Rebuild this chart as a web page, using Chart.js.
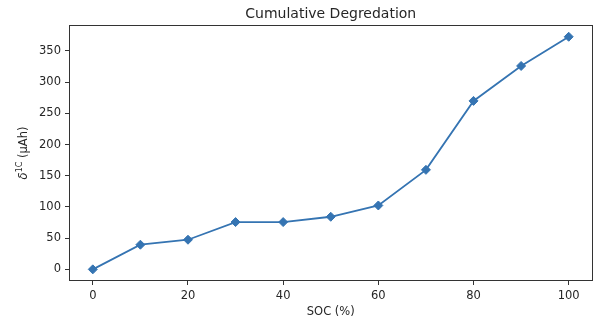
<!DOCTYPE html>
<html>
<head>
<meta charset="utf-8">
<script src="https://cdn.jsdelivr.net/npm/chart.js@4/dist/chart.umd.min.js"></script>
<style>
  html, body { margin: 0; padding: 0; background: #fff; }
  #wrap { width: 598px; height: 320px; position: relative; }
</style>
</head>
<body>
<div id="wrap"><canvas id="c" width="598" height="320"></canvas></div>
<script>
const socValues = [0, 10, 20, 30, 40, 50, 60, 70, 80, 90, 100];
const degradation = [0, 39.5, 47.5, 75.8, 75.8, 84.3, 102.4, 159.5, 270, 326, 372.8];
const xTickValues = [0, 20, 40, 60, 80, 100];
const yTickValues = [0, 50, 100, 150, 200, 250, 300, 350];
const chartTitle = 'Cumulative Degredation';
const xLabel = 'SOC (%)';
const yLabelParts = ['δ', '1C', ' (μAh)'];

const FONT = 'DejaVu Sans';
const TXT = '#262626';
const LINE = '#3574b2';

const frame = {
  id: 'frame',
  afterDraw(chart) {
    const {ctx, chartArea: a} = chart;
    ctx.save();
    ctx.strokeStyle = '#333';
    ctx.lineWidth = 1;
    ctx.strokeRect(Math.round(a.left) + 0.5, Math.round(a.top) + 0.5,
      Math.round(a.right - a.left) - 1, Math.round(a.bottom - a.top) - 1);
    // y-axis label with superscript
    const cy = (a.top + a.bottom) / 2;
    const fMain = '11.5px "' + FONT + '"';
    const fItal = 'italic 11.5px "' + FONT + '"';
    const fSup = '8px "' + FONT + '"';
    ctx.font = fItal; const w0 = ctx.measureText(yLabelParts[0]).width;
    ctx.font = fSup; const w1 = ctx.measureText(yLabelParts[1]).width;
    ctx.font = fMain; const w2 = ctx.measureText(yLabelParts[2]).width;
    const total = w0 + w1 + w2;
    ctx.translate(26.5, cy);
    ctx.rotate(-Math.PI / 2);
    ctx.fillStyle = TXT;
    ctx.textBaseline = 'alphabetic';
    ctx.textAlign = 'left';
    let x = -total / 2;
    ctx.font = fItal; ctx.fillText(yLabelParts[0], x, 0); x += w0;
    ctx.font = fSup; ctx.fillText(yLabelParts[1], x, -5); x += w1;
    ctx.font = fMain; ctx.fillText(yLabelParts[2], x, 0);
    ctx.restore();
  }
};

new Chart(document.getElementById('c'), {
  type: 'line',
  data: {
    datasets: [{
      data: socValues.map((x, i) => ({x, y: degradation[i]})),
      borderColor: LINE,
      backgroundColor: LINE,
      borderWidth: 1.8,
      pointStyle: 'rectRot',
      pointRadius: 4.5,
      pointBorderWidth: 1,
      pointHoverRadius: 4.5,
      tension: 0,
      fill: false
    }]
  },
  options: {
    responsive: false,
    animation: false,
    events: [],
    layout: { padding: { left: 0, right: 5, top: 0, bottom: 0 } },
    plugins: {
      legend: { display: false },
      tooltip: { enabled: false },
      title: {
        display: true,
        text: chartTitle,
        fullSize: false,
        color: TXT,
        font: { family: FONT, size: 14, weight: 'normal', lineHeight: 1.2 },
        padding: { top: 5.6, bottom: 2.6 }
      }
    },
    scales: {
      x: {
        type: 'linear',
        min: -5,
        max: 105,
        afterBuildTicks: s => { s.ticks = xTickValues.map(v => ({value: v})); },
        afterFit: s => { s.height = 39; },
        border: { display: false },
        grid: { drawOnChartArea: false, drawTicks: true, tickLength: 4, color: '#333' },
        ticks: { color: TXT, padding: 4, maxRotation: 0, font: { family: FONT, size: 11.5 } },
        title: {
          display: true, text: xLabel, color: TXT,
          font: { family: FONT, size: 11.5, lineHeight: 1.2 },
          padding: { top: 0, bottom: 1.1 }
        }
      },
      y: {
        type: 'linear',
        min: -18.65,
        max: 391.65,
        afterBuildTicks: s => { s.ticks = yTickValues.map(v => ({value: v})); },
        afterFit: s => { s.width = 69; },
        border: { display: false },
        grid: { drawOnChartArea: false, drawTicks: true, tickLength: 4, color: '#333' },
        ticks: { color: TXT, padding: 4, font: { family: FONT, size: 11.5 } },
        title: { display: false }
      }
    }
  },
  plugins: [frame]
});
</script>
</body>
</html>
